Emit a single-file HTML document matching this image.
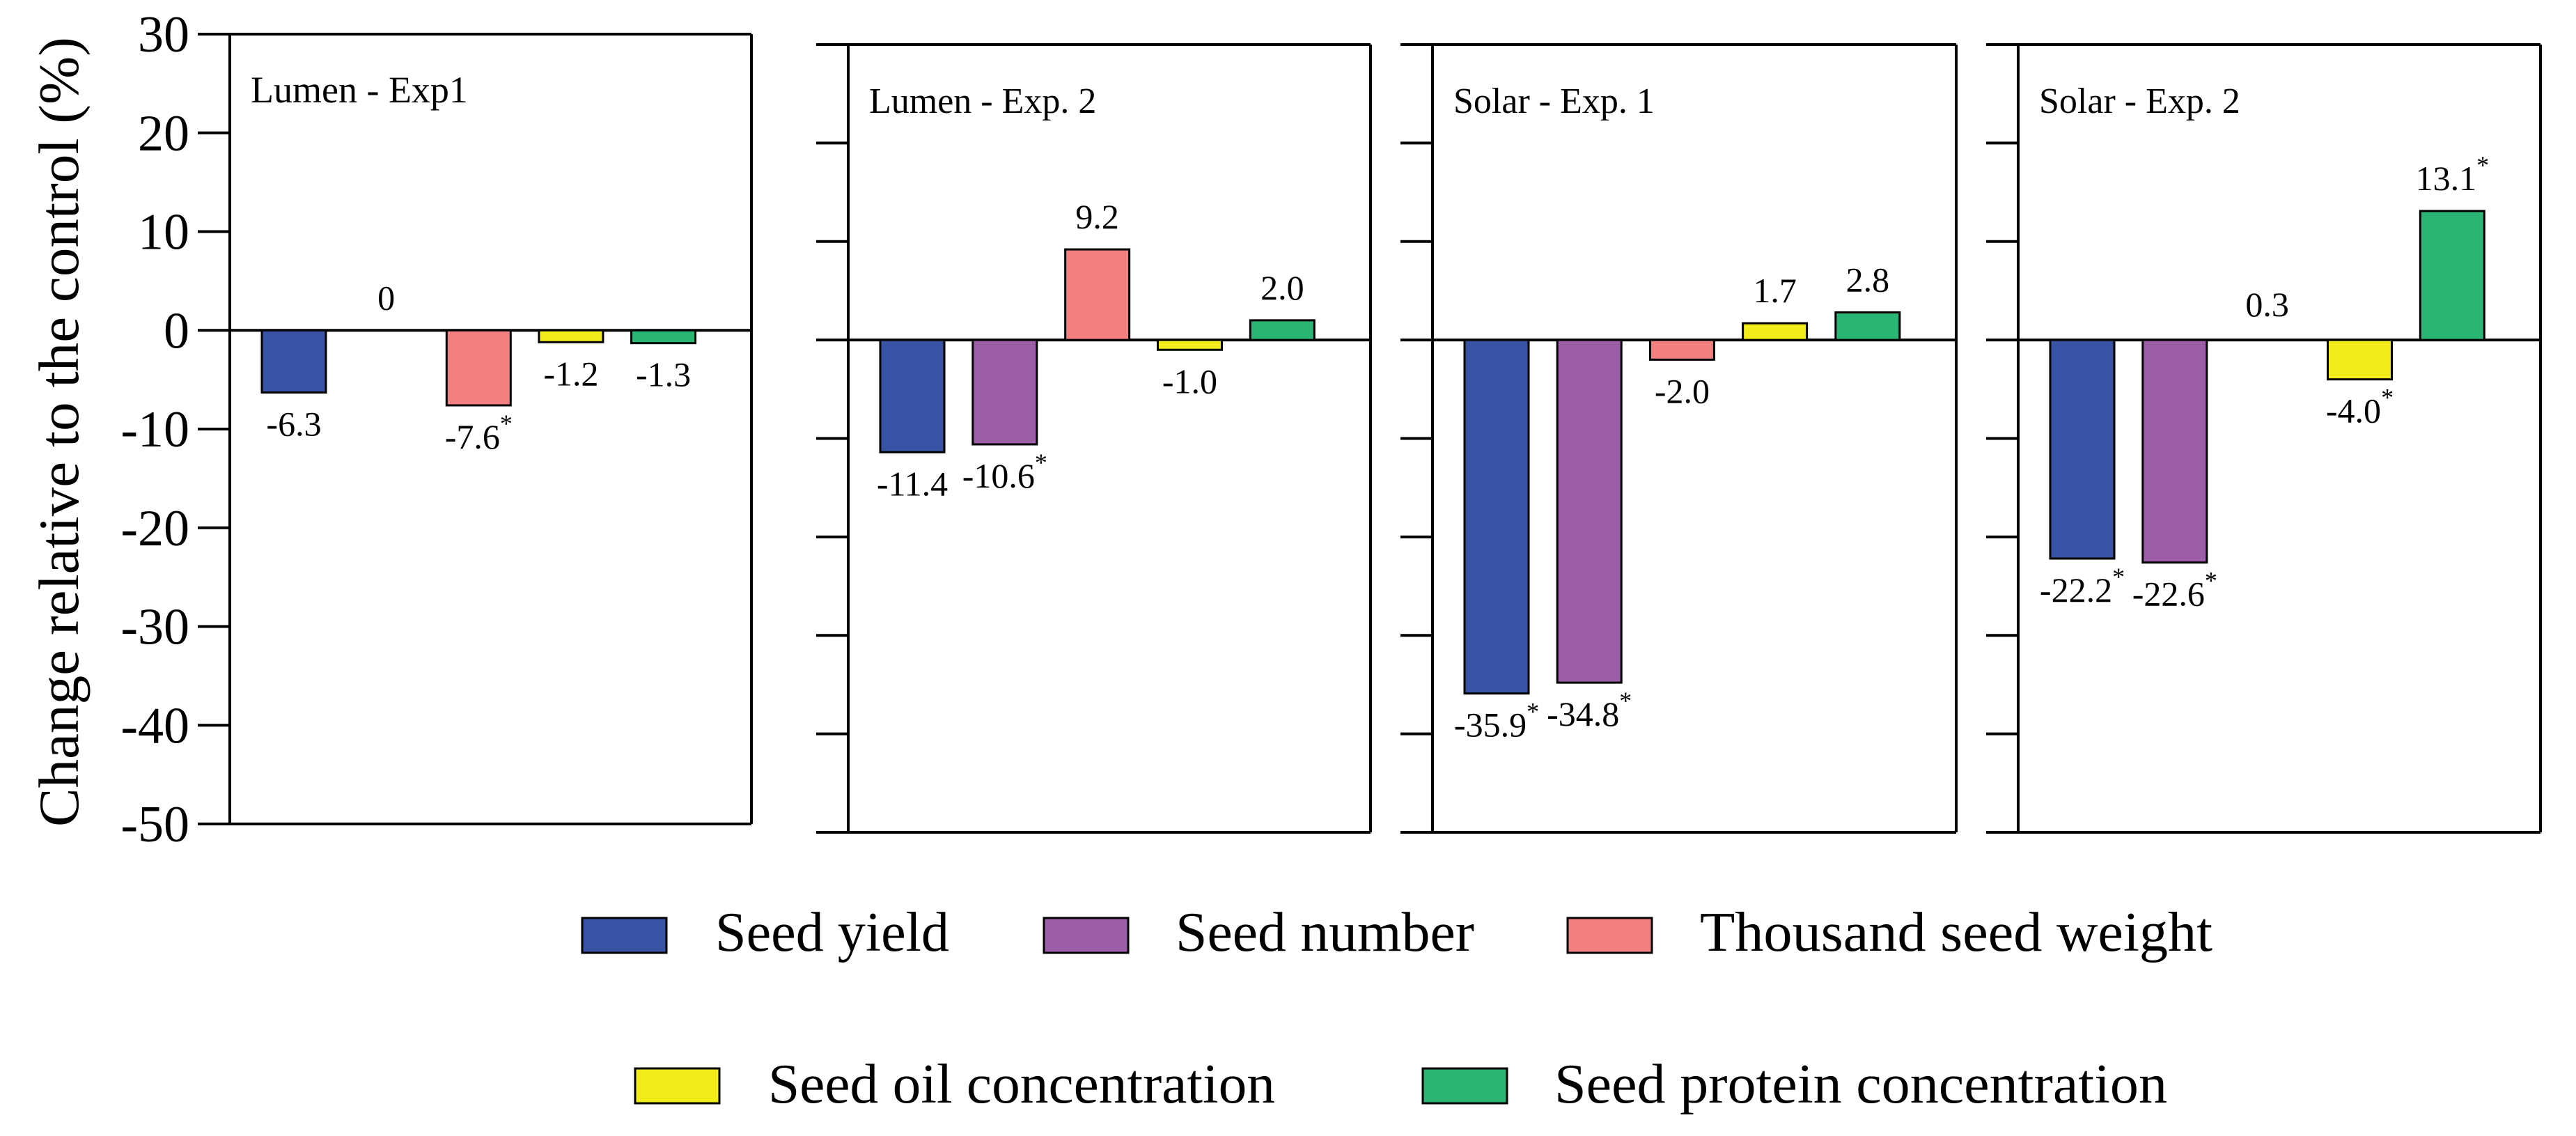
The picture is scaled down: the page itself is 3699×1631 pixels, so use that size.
<!DOCTYPE html>
<html><head><meta charset="utf-8"><style>
html,body{margin:0;padding:0;background:#fff;}
svg, svg text, svg tspan{font-family:"Liberation Serif","DejaVu Serif",serif !important;}
</style></head><body>
<svg id="chart" width="3699" height="1626" viewBox="0 0 3699 1626" xmlns="http://www.w3.org/2000/svg" font-family="Liberation Serif, serif">
<text font-family="Liberation Serif, serif" transform="translate(112,620) rotate(-90)" text-anchor="middle" font-size="82" textLength="1134" lengthAdjust="spacingAndGlyphs">Change relative to the control (%)</text>
<g id="panels"></g>
<g id="legend"></g>
</svg>
<script>
const panelTitles = ["Lumen - Exp1", "Lumen - Exp. 2", "Solar - Exp. 1", "Solar - Exp. 2"];
const seriesNames = ["Seed yield", "Seed number", "Thousand seed weight", "Seed oil concentration", "Seed protein concentration"];
const seedYield = [-6.3, -11.4, -35.9, -22.2];
const seedNumber = [0, -10.6, -34.8, -22.6];
const thousandSeedWeight = [-7.6, 9.2, -2.0, 0.3];
const seedOil = [-1.2, -1.0, 1.7, -4.0];
const seedProtein = [-1.3, 2.0, 2.8, 13.1];
const valueLabels = [
  ["-6.3", "0", "-7.6", "-1.2", "-1.3"],
  ["-11.4", "-10.6", "9.2", "-1.0", "2.0"],
  ["-35.9", "-34.8", "-2.0", "1.7", "2.8"],
  ["-22.2", "-22.6", "0.3", "-4.0", "13.1"]
];
const significant = [
  [false, false, true, false, false],
  [false, true, false, false, false],
  [true, true, false, false, false],
  [true, true, false, true, true]
];
const showBar = [
  [true, false, true, true, true],
  [true, true, true, true, true],
  [true, true, true, true, true],
  [true, true, false, true, true]
];
const yTicks = [30, 20, 10, 0, -10, -20, -30, -40, -50];
const colors = ["#3953a4", "#9c5ea6", "#f28080", "#f2ec1c", "#2ab574"];

const NS = "http://www.w3.org/2000/svg";
const FF = "Liberation Serif, serif";
const series = [seedYield, seedNumber, thousandSeedWeight, seedOil, seedProtein];
const layout = [
  {l: 330, r: 1079, t: 49, b: 1183},
  {l: 1218, r: 1968, t: 64, b: 1195},
  {l: 2057, r: 2809, t: 64, b: 1195},
  {l: 2898, r: 3648, t: 64, b: 1195}
];
function mk(tag, attrs, parent) {
  const e = document.createElementNS(NS, tag);
  for (const k in attrs) e.setAttribute(k, attrs[k]);
  if (tag === "text") e.setAttribute("font-family", FF);
  parent.appendChild(e);
  return e;
}
const root = document.getElementById("panels");
layout.forEach((p, pi) => {
  const g = mk("g", {}, root);
  
  
  const y = v => p.t + (30 - v) / 80 * (p.b - p.t);
  const tl = p.l - 46;
  yTicks.forEach(tv => {
    const ln = mk("line", {x1: tl, x2: (tv === 30 || tv === -50 || tv === 0) ? p.r : p.l, y1: y(tv), y2: y(tv), stroke: "#000", "stroke-width": 4}, g);
    
    
    if (pi === 0) {
      const t = mk("text", {x: 272, y: y(tv) + 25, "text-anchor": "end", "font-size": 74}, g);
      
      
      t.textContent = tv;
    }
  });
  const ax = mk("line", {x1: p.l, x2: p.l, y1: p.t, y2: p.b, stroke: "#000", "stroke-width": 4}, g);
  
  
  const rx = mk("line", {x1: p.r, x2: p.r, y1: p.t, y2: p.b, stroke: "#000", "stroke-width": 4}, g);
  
  
  const tt = mk("text", {x: p.l + 30, y: p.t + 98, "font-size": pi === 0 ? 54 : 52}, g);
  
  
  tt.textContent = panelTitles[pi];
  const slot = (p.r - p.l - 46) / 5.3;
  series.forEach((s, si) => {
    const v = s[pi];
    const x0 = p.l + 46 + si * slot;
    const w = 92;
    const y0 = y(0), y1 = y(v);
    if (showBar[pi][si]) {
      const r = mk("rect", {x: x0, y: Math.min(y0, y1), width: w, height: Math.max(Math.abs(y1 - y0), 1), fill: colors[si], stroke: "#000", "stroke-width": 3}, g);
      
      
    }
    const ly = v < 0 ? y1 + 62 : y1 - 30;
    const lbl = mk("text", {x: x0 + w / 2, y: ly, "text-anchor": "middle", "font-size": 50}, g);
    
    
    lbl.textContent = valueLabels[pi][si];
    if (significant[pi][si]) {
      const st = mk("tspan", {dy: -24, "font-size": 36, "font-family": FF}, lbl);
      st.textContent = "*";
    }
  });
});
const legendItems = [
  {sx: 836, sy: 1318, tx: 1027, tw: 336, by: 1365},
  {sx: 1499, sy: 1318, tx: 1688, tw: 429, by: 1365},
  {sx: 2251, sy: 1318, tx: 2441, tw: 736, by: 1365},
  {sx: 912, sy: 1534, tx: 1103, tw: 728, by: 1583},
  {sx: 2043, sy: 1534, tx: 2232, tw: 880, by: 1583}
];
const lg = document.getElementById("legend");
legendItems.forEach((it, i) => {
  const g = mk("g", {}, lg);
  
  
  const r = mk("rect", {x: it.sx, y: it.sy, width: 121, height: 50, fill: colors[i], stroke: "#000", "stroke-width": 3}, g);
  
  
  const t = mk("text", {x: it.tx, y: it.by, "font-size": 80, textLength: it.tw, lengthAdjust: "spacingAndGlyphs"}, g);
  
  
  t.textContent = seriesNames[i];
});
</script>
</body></html>
